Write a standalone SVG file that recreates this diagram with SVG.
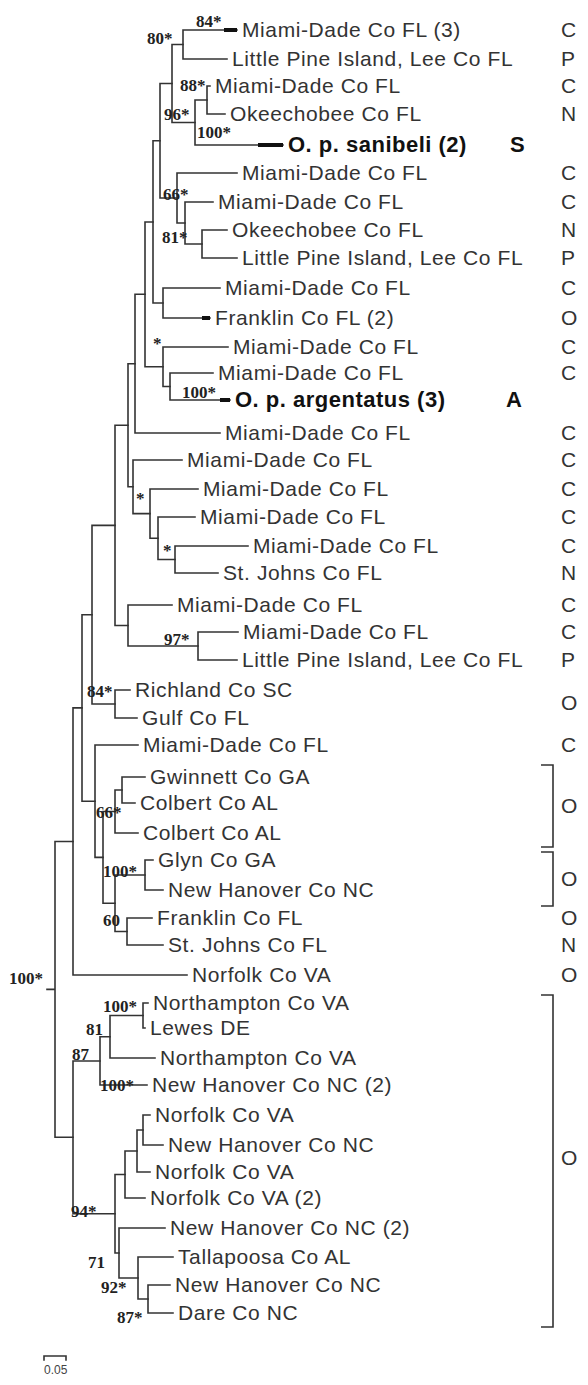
<svg xmlns="http://www.w3.org/2000/svg" width="588" height="1385" viewBox="0 0 588 1385">
<style>
.br{fill:none;stroke:#333;stroke-width:1.6;stroke-linecap:square}
.tk{fill:none;stroke:#111;stroke-width:4}
.lf{font-family:"Liberation Sans",Arial,sans-serif;font-size:21px;fill:#333;letter-spacing:0.6px}
.bd{font-family:"Liberation Sans",Arial,sans-serif;font-size:22px;font-weight:bold;fill:#111;letter-spacing:0.5px}
.sp{font-family:"Liberation Serif","Times New Roman",serif;font-size:17px;font-weight:bold;fill:#222}
.cl{font-family:"Liberation Sans",Arial,sans-serif;font-size:21px;fill:#333}
.bk{fill:none;stroke:#333;stroke-width:1.6}
.sc{font-family:"Liberation Sans",Arial,sans-serif;font-size:12px;fill:#444}
</style>
<rect width="588" height="1385" fill="#fff"/>
<g id="connectors">
<path class="br" d="M183 30V59M183 30H237M183 59H227"/>
<path class="br" d="M207 86V114M207 86H210M207 114H225"/>
<path class="br" d="M195 100V145M195 100H207M195 145H283"/>
<path class="br" d="M172 44.5V122.5M172 44.5H183M172 122.5H195"/>
<path class="br" d="M202 230V258M202 230H227M202 258H237"/>
<path class="br" d="M185 202V244M185 202H213M185 244H202"/>
<path class="br" d="M177 173V223M177 173H237M177 223H185"/>
<path class="br" d="M160 83.5V198M160 83.5H172M160 198H177"/>
<path class="br" d="M163 288V318M163 288H220M163 318H210"/>
<path class="br" d="M153 140.8V303M153 140.8H160M153 303H163"/>
<path class="br" d="M170 373V400M170 373H213M170 400H230"/>
<path class="br" d="M163 347V386.5M163 347H228M163 386.5H170"/>
<path class="br" d="M145 222V366.8M145 222H153M145 366.8H163"/>
<path class="br" d="M135 294.3V433M135 294.3H145M135 433H220"/>
<path class="br" d="M175 546V573M175 546H248M175 573H218"/>
<path class="br" d="M158 517V559.5M158 517H195M158 559.5H175"/>
<path class="br" d="M150 489V538.3M150 489H198M150 538.3H158"/>
<path class="br" d="M133 460V513.6M133 460H182M133 513.6H150"/>
<path class="br" d="M128 363.7V486.8M128 363.7H135M128 486.8H133"/>
<path class="br" d="M198 632V660M198 632H238M198 660H237"/>
<path class="br" d="M128 605V646M128 605H172M128 646H198"/>
<path class="br" d="M115 425.3V625.5M115 425.3H128M115 625.5H128"/>
<path class="br" d="M115 690V718M115 690H130M115 718H137"/>
<path class="br" d="M92 525.4V704M92 525.4H115M92 704H115"/>
<path class="br" d="M122 777V803M122 777H145M122 803H135"/>
<path class="br" d="M115 790V833M115 790H122M115 833H138"/>
<path class="br" d="M145 860V890M145 860H153M145 890H163"/>
<path class="br" d="M127 918V945M127 918H152M127 945H163"/>
<path class="br" d="M115 875V931.5M115 875H145M115 931.5H127"/>
<path class="br" d="M103 811.5V903.3M103 811.5H115M103 903.3H115"/>
<path class="br" d="M95 745V857.4M95 745H138M95 857.4H103"/>
<path class="br" d="M82 614.7V801.2M82 614.7H92M82 801.2H95"/>
<path class="br" d="M73 707.9V975M73 707.9H82M73 975H187"/>
<path class="br" d="M143 1003V1028M143 1003H148M143 1028H145"/>
<path class="br" d="M110 1015.5V1058M110 1015.5H143M110 1058H155"/>
<path class="br" d="M100 1036.8V1085M100 1036.8H110M100 1085H147"/>
<path class="br" d="M143 1115V1145M143 1115H150M143 1145H163"/>
<path class="br" d="M137 1130V1172M137 1130H143M137 1172H150"/>
<path class="br" d="M125 1151V1198M125 1151H137M125 1198H145"/>
<path class="br" d="M148 1285V1313M148 1285H170M148 1313H173"/>
<path class="br" d="M138 1257V1299M138 1257H173M138 1299H148"/>
<path class="br" d="M119 1228V1278M119 1228H165M119 1278H138"/>
<path class="br" d="M115 1174.5V1253M115 1174.5H125M115 1253H119"/>
<path class="br" d="M73 1061V1213.8M73 1061H100M73 1213.8H115"/>
<path class="br" d="M55 841.5V1137.3M55 841.5H73M55 1137.3H73M47 989.4H55"/>
<path class="tk" d="M224 30H237M258 145H283M202 318H210M220 400H230"/>
</g>
<g id="support-labels">
<text class="sp" x="196" y="27">84*</text>
<text class="sp" x="147" y="44">80*</text>
<text class="sp" x="180" y="91">88*</text>
<text class="sp" x="164" y="120">96*</text>
<text class="sp" x="197" y="138">100*</text>
<text class="sp" x="163" y="200">66*</text>
<text class="sp" x="162" y="243">81*</text>
<text class="sp" x="153" y="349">*</text>
<text class="sp" x="182" y="398">100*</text>
<text class="sp" x="136" y="504">*</text>
<text class="sp" x="163" y="556">*</text>
<text class="sp" x="164" y="645">97*</text>
<text class="sp" x="87" y="697">84*</text>
<text class="sp" x="96" y="818">66*</text>
<text class="sp" x="103" y="877">100*</text>
<text class="sp" x="103" y="926">60</text>
<text class="sp" x="9" y="984">100*</text>
<text class="sp" x="103" y="1012">100*</text>
<text class="sp" x="86" y="1035">81</text>
<text class="sp" x="72" y="1060">87</text>
<text class="sp" x="100" y="1091">100*</text>
<text class="sp" x="71" y="1217">94*</text>
<text class="sp" x="88" y="1268">71</text>
<text class="sp" x="101" y="1293">92*</text>
<text class="sp" x="117" y="1323">87*</text>
</g>
<g id="taxa">
<g id="t1"><text class="lf" x="242" y="37">Miami-Dade Co FL (3)</text></g>
<g id="t2"><text class="lf" x="232" y="66">Little Pine Island, Lee Co FL</text></g>
<g id="t3"><text class="lf" x="215" y="93">Miami-Dade Co FL</text></g>
<g id="t4"><text class="lf" x="230" y="121">Okeechobee Co FL</text></g>
<g id="t5"><text class="bd" x="288" y="152">O. p. sanibeli (2)</text></g>
<g id="t6"><text class="lf" x="242" y="180">Miami-Dade Co FL</text></g>
<g id="t7"><text class="lf" x="218" y="209">Miami-Dade Co FL</text></g>
<g id="t8"><text class="lf" x="232" y="237">Okeechobee Co FL</text></g>
<g id="t9"><text class="lf" x="242" y="265">Little Pine Island, Lee Co FL</text></g>
<g id="t10"><text class="lf" x="225" y="295">Miami-Dade Co FL</text></g>
<g id="t11"><text class="lf" x="215" y="325">Franklin Co FL (2)</text></g>
<g id="t12"><text class="lf" x="233" y="354">Miami-Dade Co FL</text></g>
<g id="t13"><text class="lf" x="218" y="380">Miami-Dade Co FL</text></g>
<g id="t14"><text class="bd" x="235" y="407">O. p. argentatus (3)</text></g>
<g id="t15"><text class="lf" x="225" y="440">Miami-Dade Co FL</text></g>
<g id="t16"><text class="lf" x="187" y="467">Miami-Dade Co FL</text></g>
<g id="t17"><text class="lf" x="203" y="496">Miami-Dade Co FL</text></g>
<g id="t18"><text class="lf" x="200" y="524">Miami-Dade Co FL</text></g>
<g id="t19"><text class="lf" x="253" y="553">Miami-Dade Co FL</text></g>
<g id="t20"><text class="lf" x="223" y="580">St. Johns Co FL</text></g>
<g id="t21"><text class="lf" x="177" y="612">Miami-Dade Co FL</text></g>
<g id="t22"><text class="lf" x="243" y="639">Miami-Dade Co FL</text></g>
<g id="t23"><text class="lf" x="242" y="667">Little Pine Island, Lee Co FL</text></g>
<g id="t24"><text class="lf" x="135" y="697">Richland Co SC</text></g>
<g id="t25"><text class="lf" x="142" y="725">Gulf Co FL</text></g>
<g id="t26"><text class="lf" x="143" y="752">Miami-Dade Co FL</text></g>
<g id="t27"><text class="lf" x="150" y="784">Gwinnett Co GA</text></g>
<g id="t28"><text class="lf" x="140" y="810">Colbert Co AL</text></g>
<g id="t29"><text class="lf" x="143" y="840">Colbert Co AL</text></g>
<g id="t30"><text class="lf" x="158" y="867">Glyn Co GA</text></g>
<g id="t31"><text class="lf" x="168" y="897">New Hanover Co NC</text></g>
<g id="t32"><text class="lf" x="157" y="925">Franklin Co FL</text></g>
<g id="t33"><text class="lf" x="168" y="952">St. Johns Co FL</text></g>
<g id="t34"><text class="lf" x="192" y="982">Norfolk Co VA</text></g>
<g id="t35"><text class="lf" x="153" y="1010">Northampton Co VA</text></g>
<g id="t36"><text class="lf" x="150" y="1035">Lewes DE</text></g>
<g id="t37"><text class="lf" x="160" y="1065">Northampton Co VA</text></g>
<g id="t38"><text class="lf" x="152" y="1092">New Hanover Co NC (2)</text></g>
<g id="t39"><text class="lf" x="155" y="1122">Norfolk Co VA</text></g>
<g id="t40"><text class="lf" x="168" y="1152">New Hanover Co NC</text></g>
<g id="t41"><text class="lf" x="155" y="1179">Norfolk Co VA</text></g>
<g id="t42"><text class="lf" x="150" y="1205">Norfolk Co VA (2)</text></g>
<g id="t43"><text class="lf" x="170" y="1235">New Hanover Co NC (2)</text></g>
<g id="t44"><text class="lf" x="178" y="1264">Tallapoosa Co AL</text></g>
<g id="t45"><text class="lf" x="175" y="1292">New Hanover Co NC</text></g>
<g id="t46"><text class="lf" x="178" y="1320">Dare Co NC</text></g>
</g>
<g id="group-codes">
<text class="cl" x="561" y="37">C</text>
<text class="cl" x="561" y="66">P</text>
<text class="cl" x="561" y="93">C</text>
<text class="cl" x="561" y="121">N</text>
<text class="bd" x="510" y="152">S</text>
<text class="cl" x="561" y="180">C</text>
<text class="cl" x="561" y="209">C</text>
<text class="cl" x="561" y="237">N</text>
<text class="cl" x="561" y="265">P</text>
<text class="cl" x="561" y="295">C</text>
<text class="cl" x="561" y="325">O</text>
<text class="cl" x="561" y="354">C</text>
<text class="cl" x="561" y="380">C</text>
<text class="bd" x="506" y="407">A</text>
<text class="cl" x="561" y="440">C</text>
<text class="cl" x="561" y="467">C</text>
<text class="cl" x="561" y="496">C</text>
<text class="cl" x="561" y="524">C</text>
<text class="cl" x="561" y="553">C</text>
<text class="cl" x="561" y="580">N</text>
<text class="cl" x="561" y="612">C</text>
<text class="cl" x="561" y="639">C</text>
<text class="cl" x="561" y="667">P</text>
<text class="cl" x="561" y="710">O</text>
<text class="cl" x="561" y="752">C</text>
<text class="cl" x="561" y="813">O</text>
<text class="cl" x="561" y="886">O</text>
<text class="cl" x="561" y="925">O</text>
<text class="cl" x="561" y="952">N</text>
<text class="cl" x="561" y="982">O</text>
<text class="cl" x="561" y="1165">O</text>
<path class="bk" d="M541 765H553V847H541M541 852H553V906H541M541 995H553V1327H541"/>
</g>
<g id="scale-bar">
<path class="br" d="M44 1360V1356H66V1360"/>
<text class="sc" x="44" y="1374">0.05</text>
</g>
</svg>
